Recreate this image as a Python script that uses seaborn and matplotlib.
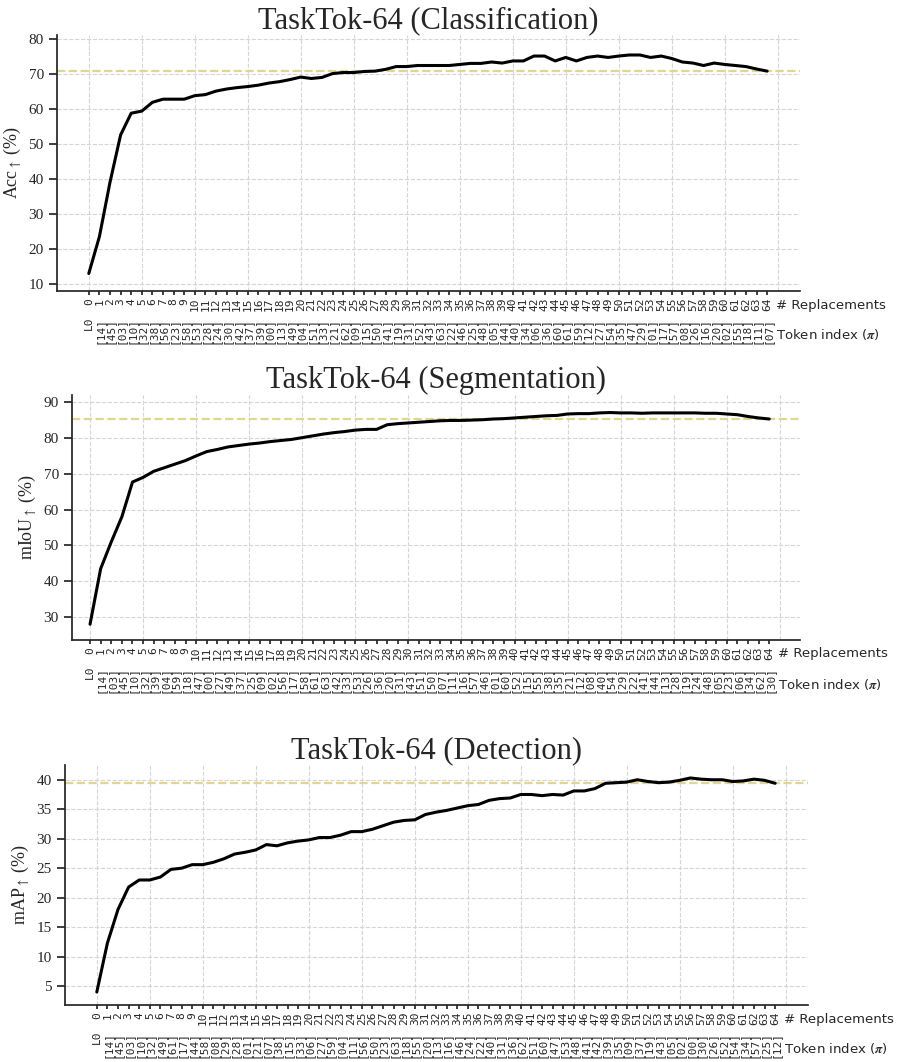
import matplotlib
matplotlib.use('Agg')
import numpy as np
import pandas as pd
import matplotlib.pyplot as plt
import seaborn as sns
from matplotlib.ticker import MultipleLocator

sns.set_theme(style='ticks')
plt.rcParams['font.family'] = ['Liberation Serif', 'DejaVu Serif']
plt.rcParams['mathtext.fontset'] = 'stix'

# number of replaced tokens (x axis)
replacements = list(range(65))

# scores
cls_acc = [13.0, 23.5, 39.0, 52.5, 58.7, 59.3, 61.8, 62.7, 62.7, 62.7,
           63.7, 64.0, 65.0, 65.6, 66.0, 66.3, 66.7, 67.3, 67.7, 68.3,
           69.0, 68.6, 68.9, 70.0, 70.3, 70.3, 70.6, 70.7, 71.2, 72.0,
           72.0, 72.3, 72.3, 72.3, 72.3, 72.6, 72.9, 72.9, 73.3, 73.0,
           73.6, 73.6, 75.0, 75.0, 73.6, 74.6, 73.6, 74.6, 75.0, 74.6,
           75.0, 75.3, 75.3, 74.6, 75.0, 74.3, 73.3, 73.0, 72.3, 73.0,
           72.6, 72.3, 72.0, 71.3, 70.7]
seg_miou = [28.0, 43.5, 51.0, 58.0, 67.7, 69.0, 70.7, 71.7, 72.7, 73.7,
            75.0, 76.2, 76.8, 77.5, 77.9, 78.3, 78.6, 79.0, 79.3, 79.6,
            80.1, 80.6, 81.1, 81.5, 81.8, 82.2, 82.4, 82.4, 83.7, 84.0,
            84.2, 84.4, 84.6, 84.8, 84.9, 84.9, 85.0, 85.1, 85.3, 85.4,
            85.6, 85.8, 86.0, 86.2, 86.3, 86.7, 86.8, 86.8, 87.0, 87.1,
            87.0, 87.0, 86.9, 87.0, 87.0, 87.0, 87.0, 87.0, 86.9, 86.9,
            86.7, 86.5, 86.0, 85.6, 85.3]
det_map = [4.0, 12.3, 18.0, 21.8, 23.0, 23.0, 23.5, 24.8, 25.0, 25.6,
           25.6, 26.0, 26.6, 27.4, 27.7, 28.1, 29.0, 28.8, 29.3, 29.6,
           29.8, 30.2, 30.2, 30.6, 31.2, 31.2, 31.6, 32.2, 32.8, 33.1,
           33.2, 34.1, 34.5, 34.8, 35.2, 35.6, 35.8, 36.5, 36.8, 36.9,
           37.5, 37.5, 37.3, 37.5, 37.4, 38.1, 38.1, 38.5, 39.4, 39.5,
           39.6, 40.0, 39.7, 39.5, 39.6, 39.9, 40.3, 40.1, 40.0, 40.0,
           39.7, 39.8, 40.1, 39.9, 39.4]

# token index replaced at each step
cls_tokens = [14, 45, 3, 10, 32, 38, 56, 23, 58, 53, 28, 24, 30, 42, 37, 39,
              0, 13, 49, 4, 51, 33, 21, 62, 9, 15, 50, 41, 19, 31, 52, 43,
              63, 22, 46, 25, 48, 5, 44, 40, 34, 6, 36, 60, 61, 59, 12, 27,
              54, 35, 47, 29, 1, 17, 57, 8, 26, 16, 20, 2, 55, 18, 11, 7]
seg_tokens = [14, 3, 45, 10, 32, 39, 4, 59, 18, 47, 0, 27, 49, 37, 25, 9,
              2, 56, 17, 58, 61, 63, 42, 33, 53, 26, 36, 20, 31, 43, 51, 50,
              7, 11, 16, 57, 46, 1, 60, 52, 15, 55, 38, 35, 21, 12, 8, 40,
              54, 29, 22, 41, 44, 13, 28, 19, 24, 48, 5, 23, 6, 34, 62, 30]
det_tokens = [14, 45, 3, 10, 32, 49, 61, 17, 44, 58, 8, 29, 28, 1, 21, 7,
              38, 15, 33, 6, 27, 59, 4, 11, 56, 50, 23, 63, 18, 55, 20, 13,
              16, 46, 24, 22, 40, 31, 36, 62, 51, 60, 47, 53, 48, 41, 42, 39,
              35, 9, 37, 19, 43, 5, 2, 0, 30, 26, 52, 54, 34, 57, 25, 12]

# full-model reference (dashed line)
cls_ref = 70.7
seg_ref = 85.3
det_ref = 39.4

W, H = 901, 1062
fig = plt.figure(figsize=(W / 100, H / 100), dpi=100)

panels = [
    ('TaskTok-64 (Classification)', r'Acc$_{\uparrow}$ (%)', cls_acc, cls_tokens, cls_ref,
     (57, 800, 35, 291), (-3.0, 67.1), (8, 81), 10),
    ('TaskTok-64 (Segmentation)', r'mIoU$_{\uparrow}$ (%)', seg_miou, seg_tokens, seg_ref,
     (72, 800, 395, 640), (-1.7, 66.9), (23.6, 92), 10),
    ('TaskTok-64 (Detection)', r'mAP$_{\uparrow}$ (%)', det_map, det_tokens, det_ref,
     (65, 808, 765, 1005), (-3.0, 67.1), (1.8, 42.5), 5),
]

for title, ylab, vals, toks, ref, box, xlim, ylim, ystep in panels:
    l, r, t, b = box
    hpx = b - t
    ax = fig.add_axes([l / W, 1 - b / H, (r - l) / W, hpx / H])
    df = pd.DataFrame({'n': replacements, 'score': vals})
    ax.axhline(ref, color='#e0d68e', ls='--', lw=1.6, zorder=1)
    sns.lineplot(data=df, x='n', y='score', ax=ax, color='black', lw=2.2, zorder=3)

    ax.set_xlim(xlim)
    ax.set_ylim(ylim)
    ax.set_xticks(replacements)
    ax.set_xticklabels([str(i) for i in replacements], rotation=90,
                       fontfamily='DejaVu Sans Mono', fontsize=8)
    ax.tick_params(axis='x', which='major', length=3, pad=2)
    ax.yaxis.set_major_locator(MultipleLocator(ystep))
    ax.tick_params(axis='y', labelsize=11)
    ax.xaxis.set_minor_locator(MultipleLocator(5))
    ax.xaxis.remove_overlapping_locs = False
    ax.tick_params(axis='x', which='minor', length=0)
    ax.grid(axis='y', which='major', ls='--', color='#d5d5d5', lw=0.8)
    ax.grid(axis='x', which='minor', ls='--', color='#d5d5d5', lw=0.8)
    ax.set_xlabel('')
    ax.set_ylabel(ylab, fontsize=13)
    ax.set_title(title, fontsize=22, pad=3)
    sns.despine(ax=ax)

    # second row of labels: which token got replaced
    sec = ax.secondary_xaxis(-23 / hpx)
    sec.set_xticks(replacements)
    sec.set_xticklabels(['L0'] + ['[%02d]' % k for k in toks][:64], rotation=90,
                        fontfamily='DejaVu Sans Mono', fontsize=8)
    sec.tick_params(length=0, pad=2)
    sec.spines['bottom'].set_visible(False)

    trans = ax.get_xaxis_transform()
    ax.text(64.8, -14 / hpx, '# Replacements', transform=trans, ha='left', va='center',
            fontfamily='DejaVu Sans', fontsize=9.5)
    ax.text(64.8, -44 / hpx, r'Token index ($\boldsymbol{\pi}$)', transform=trans,
            ha='left', va='center', fontfamily='DejaVu Sans', fontsize=9.5)

fig.savefig('out.png', dpi=100)
